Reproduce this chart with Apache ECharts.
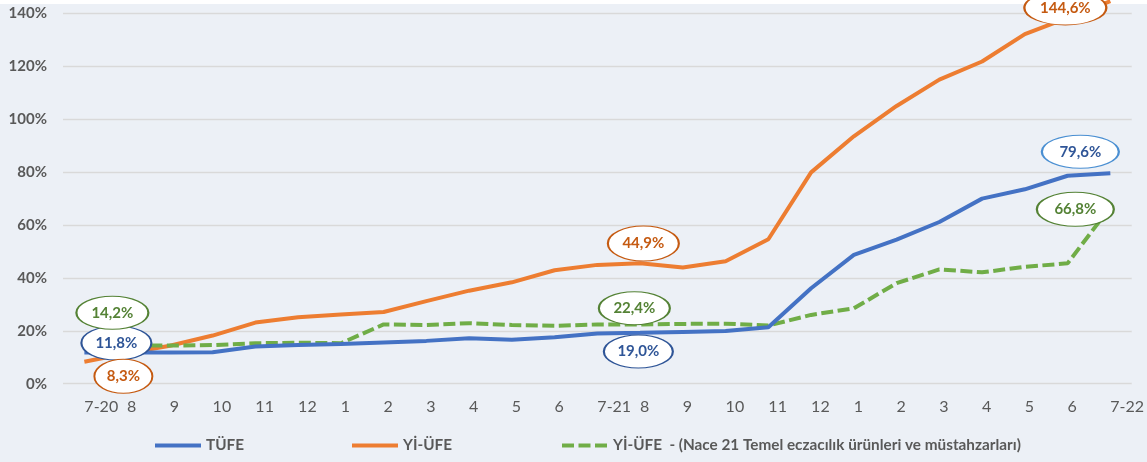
<!DOCTYPE html>
<html>
<head>
<meta charset="utf-8">
<script src="https://cdn.jsdelivr.net/npm/echarts@6/dist/echarts.min.js"></script>
<style>
html,body{margin:0;padding:0;background:#ECF0F6;}
#chart{width:1147px;height:462px;}
</style>
</head>
<body>
<div id="chart"></div>
<script>
// ---- data (annual change, %) ----
const categories = ['7-20','8','9','10','11','12','1','2','3','4','5','6','7-21','8','9','10','11','12','1','2','3','4','5','6','7-22'];
const tufe  = [11.76,11.77,11.75,11.89,14.03,14.60,14.97,15.61,16.19,17.14,16.59,17.53,19.0,19.25,19.58,19.89,21.31,36.08,48.69,54.44,61.14,69.97,73.50,78.62,79.60];
const yiufe = [8.33,11.53,14.33,18.20,23.11,25.15,26.16,27.09,31.20,35.17,38.33,42.89,44.92,45.52,43.96,46.31,54.62,79.89,93.53,105.01,114.97,121.82,132.16,138.31,144.61];
const nace  = [14.2,14.4,14.4,14.6,15.3,15.5,15.3,22.4,22.2,22.9,22.2,21.9,22.4,22.4,22.6,22.7,22.0,26.0,28.5,38.0,43.2,42.1,44.2,45.5,66.8];
const yTicks = [0,20,40,60,80,100,120,140];
const seriesNames = ['TÜFE','Yİ-ÜFE','Yİ-ÜFE  - (Nace 21 Temel eczacılık ürünleri ve müstahzarları)'];
const annotatedIdx = [0,12,24];

const Y_MAX = yTicks[yTicks.length-1];
const FONT = 'Lato, "Open Sans", sans-serif';
const ELLIPSE = 'path://M0,1 C0,0.448 0.448,0 1,0 C1.552,0 2,0.448 2,1 C2,1.552 1.552,2 1,2 C0.448,2 0,1.552 0,1 Z';
const fmt = v => v.toFixed(1).replace('.', ',') + '%';

// callouts attached to the annotated points; anchor kept inside the plot (markPoint drops points outside it)
function callouts(values, styles) {
  return annotatedIdx.map((idx, k) => {
    const s = styles[k];
    return {
      coord: [idx, Math.min(values[idx], Y_MAX)],
      value: values[idx],
      symbol: ELLIPSE,
      symbolSize: s.size,
      symbolOffset: s.off,
      itemStyle: {color: '#FFFFFF', borderColor: s.border, borderWidth: 1.5},
      label: {show: true, position: 'inside', formatter: p => fmt(p.value),
              color: s.text, fontWeight: 'bold', fontSize: 15, fontFamily: FONT}
    };
  });
}

const chart = echarts.init(document.getElementById('chart'), null, {renderer: 'canvas'});
const legendBase = {
  top: 438, orient: 'horizontal', itemWidth: 46, itemHeight: 14, itemGap: 0, padding: 0,
  selectedMode: false,
  itemStyle: {opacity: 0, borderWidth: 0},
  lineStyle: {width: 4},
  textStyle: {color: '#595959', fontWeight: 'bold', fontSize: 15.3, fontFamily: FONT}
};
chart.setOption({
  animation: false,
  backgroundColor: '#ECF0F6',
  graphic: [
    {type: 'rect', z: 0, shape: {x: 0, y: 0, width: 1147, height: 4}, style: {fill: '#FFFFFF'}}
  ],
  grid: {left: 63, right: 9, top: 13.4, bottom: 78.3, containLabel: false},
  legend: [
    Object.assign({}, legendBase, {left: 153, data: [seriesNames[0]]}),
    Object.assign({}, legendBase, {left: 350, data: [seriesNames[1]]}),
    Object.assign({}, legendBase, {left: 560, data: [seriesNames[2]]})
  ],
  xAxis: {
    type: 'category', data: categories, boundaryGap: true,
    axisLine: {show: false}, axisTick: {show: false}, splitLine: {show: false},
    axisLabel: {interval: 0, align: 'left', margin: 15, color: '#595959', fontSize: 16, fontFamily: FONT}
  },
  yAxis: {
    type: 'value', min: yTicks[0], max: Y_MAX, interval: 20,
    axisLine: {show: false}, axisTick: {show: false},
    splitLine: {lineStyle: {color: '#D9D9D9', width: 1.3}},
    axisLabel: {formatter: '{value}%', margin: 16, color: '#595959', fontWeight: 'bold', fontSize: 15, fontFamily: FONT}
  },
  series: [
    {
      name: seriesNames[0], type: 'line', data: tufe, symbol: 'none', clip: false, z: 4,
      lineStyle: {color: '#4472C4', width: 4}, itemStyle: {color: '#4472C4'},
      markPoint: {silent: true, data: callouts(tufe, [
        {off: [32, -9.6], size: [70, 34], border: '#2F5597', text: '#2F5597'},
        {off: [41, 18], size: [69, 33], border: '#2F5597', text: '#2F5597'},
        {off: [-30, -21.5], size: [77, 33], border: '#4A8FD2', text: '#2F5597'}
      ])}
    },
    {
      name: seriesNames[1], type: 'line', data: yiufe, symbol: 'none', clip: false, z: 3,
      lineStyle: {color: '#ED7D31', width: 4}, itemStyle: {color: '#ED7D31'},
      markPoint: {silent: true, data: callouts(yiufe, [
        {off: [39, 14.6], size: [58, 34], border: '#C55A11', text: '#C55A11'},
        {off: [46, -21.4], size: [71, 35], border: '#C55A11', text: '#C55A11'},
        {off: [-45, -5.4], size: [82, 34], border: '#C55A11', text: '#C55A11'}
      ])}
    },
    {
      name: seriesNames[2], type: 'line', data: nace, symbol: 'none', clip: false, z: 3,
      lineStyle: {color: '#70AD47', width: 4, type: [12, 4.5]}, itemStyle: {color: '#70AD47'},
      markPoint: {silent: true, data: callouts(nace, [
        {off: [28, -33.4], size: [72, 33], border: '#548235', text: '#548235'},
        {off: [37, -16.2], size: [71, 33], border: '#548235', text: '#548235'},
        {off: [-35, 2.3], size: [77, 34], border: '#548235', text: '#548235'}
      ])}
    }
  ]
});
</script>
</body>
</html>
